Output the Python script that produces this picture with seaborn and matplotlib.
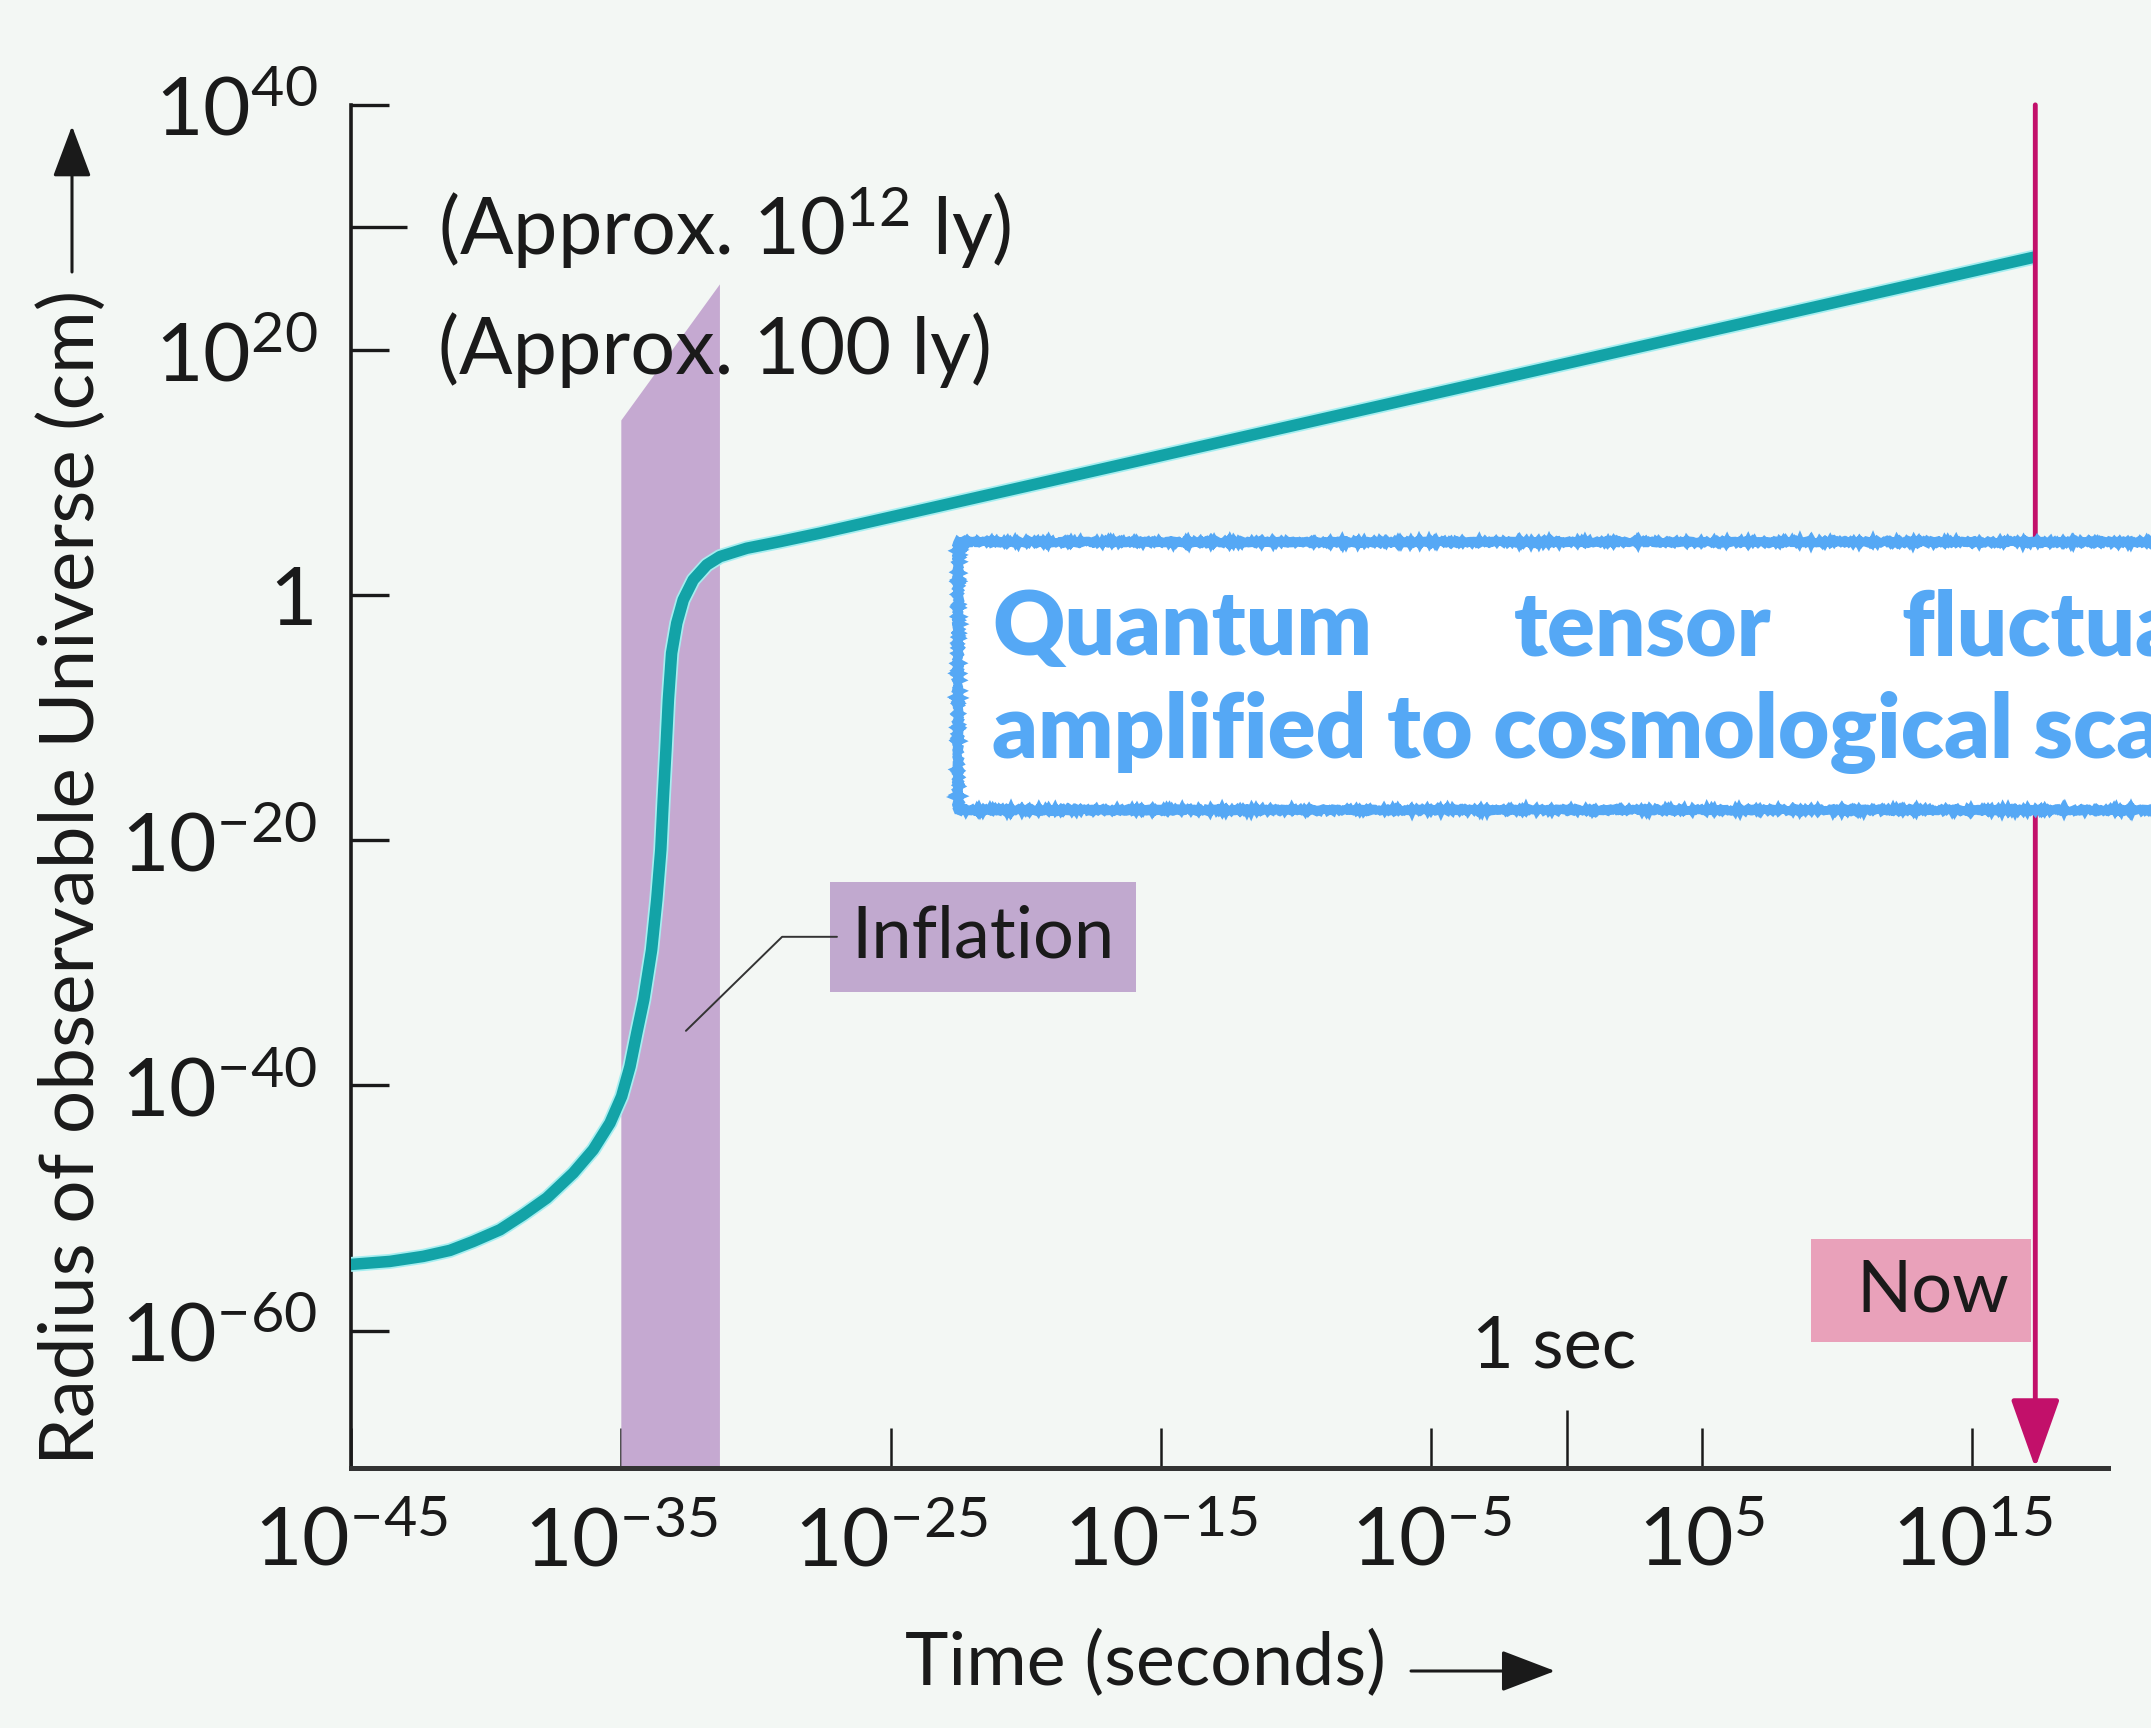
import numpy as np
import pandas as pd
import matplotlib
matplotlib.use("Agg")
import matplotlib.pyplot as plt
import matplotlib.patheffects as pe
from matplotlib.patches import Rectangle, FancyArrowPatch
from matplotlib.ticker import FixedLocator, FixedFormatter
import seaborn as sns

# Expansion history: log10(time / s) and log10(radius / cm)
log_time = [-45.0, -43.54, -42.31, -41.32, -40.46, -39.47, -38.61, -37.74, -36.76,
            -36.02, -35.40, -34.97, -34.66, -34.41, -34.15, -33.86, -33.67, -33.52,
            -33.43, -33.33, -33.24, -33.12, -32.93, -32.69, -32.32, -31.82, -31.33,
            -30.34, -29.11, -27.63, 17.35]
log_radius = [-54.6, -54.35, -53.94, -53.45, -52.72, -51.77, -50.54, -49.18, -47.14,
              -45.24, -43.06, -40.89, -38.45, -35.72, -33.0, -28.93, -24.85, -20.77,
              -16.69, -12.61, -8.54, -4.73, -2.28, -0.38, 1.25, 2.47, 3.15,
              3.83, 4.37, 5.06, 27.6]

# Inflation epoch band (log10 time) and its slanted top edge (log10 radius)
inflation_log_time = [-35.0, -31.35]
inflation_log_top = [14.3, 25.4]

# Present age of the Universe, log10 seconds
now_log_time = 17.35

# Axis ranges and ticks (log10 units)
x_range = [-45.0, 20.04]
y_range = [-71.2, 40.0]
x_tick_exps = [-45, -35, -25, -15, -5, 5, 15]
x_tick_labels = ["$10^{-45}$", "$10^{-35}$", "$10^{-25}$", "$10^{-15}$",
                 "$10^{-5}$", "$10^{5}$", "$10^{15}$"]
y_tick_exps = [40, 20, 0, -20, -40, -60]
y_tick_labels = ["$10^{40}$", "$10^{20}$", "1", "$10^{-20}$", "$10^{-40}$", "$10^{-60}$"]
y_scale_marks = [30, 20]
scale_mark_labels = ["(Approx. $10^{12}$ ly)", "(Approx. 100 ly)"]

BG = "#f3f7f4"
TEAL = "#13a3a7"
BAND = "#c5a9d1"
INFL_BOX = "#c1a9cf"
NOW_BOX = "#e9a1ba"
MAGENTA = "#c2106a"
INK = "#1a1a1a"
CALLOUT = "#55a8f5"

sns.set_theme(style="white")
plt.rcParams["font.family"] = ["Lato", "DejaVu Sans"]
plt.rcParams["mathtext.fontset"] = "custom"
plt.rcParams["mathtext.rm"] = "Lato"
plt.rcParams["mathtext.it"] = "Lato:italic"
plt.rcParams["mathtext.bf"] = "Lato:bold"
plt.rcParams["mathtext.default"] = "regular"

fig = plt.figure(figsize=(21.51, 17.28), dpi=100, facecolor=BG)
ax = fig.add_axes([0.1630, 0.1505, 0.8170, 0.7888])
ax.set_facecolor(BG)
ax.set_xscale("log")
ax.set_yscale("log")
ax.set_xlim(10.0 ** x_range[0], 10.0 ** x_range[1])
ax.set_ylim(10.0 ** y_range[0], 10.0 ** y_range[1])

# inflation band
band_t = 10.0 ** np.array(inflation_log_time)
ax.fill_between(band_t, 10.0 ** y_range[0], 10.0 ** np.array(inflation_log_top),
                color=BAND, lw=0, zorder=1)

# radius curve
df = pd.DataFrame({"time": 10.0 ** np.array(log_time),
                   "radius": 10.0 ** np.array(log_radius)})
sns.lineplot(data=df, x="time", y="radius", sort=False, estimator=None,
             color=TEAL, lw=8.3, ax=ax, zorder=3)
line = ax.get_lines()[-1]
line.set_solid_capstyle("butt")
line.set_solid_joinstyle("round")
line.set_path_effects([pe.Stroke(linewidth=10.8, foreground="#a6eef0"), pe.Normal()])
ax.set_xlabel("")
ax.set_ylabel("")

# "Now" arrow
t_now = 10.0 ** now_log_time
ax.annotate("", xy=(t_now, 10.0 ** y_range[0]), xytext=(t_now, 10.0 ** y_range[1]),
            arrowprops=dict(arrowstyle="-|>,head_length=0.9,head_width=0.32",
                            color=MAGENTA, lw=3.5, mutation_scale=48,
                            shrinkA=0, shrinkB=0),
            annotation_clip=False, zorder=4)

# spines
for side in ("top", "right"):
    ax.spines[side].set_visible(False)
ax.spines["left"].set_color(INK)
ax.spines["left"].set_linewidth(2.6)
ax.spines["bottom"].set_color("#333333")
ax.spines["bottom"].set_linewidth(3.6)

# ticks
ax.xaxis.set_major_locator(FixedLocator([10.0 ** e for e in x_tick_exps]))
ax.xaxis.set_major_formatter(FixedFormatter(x_tick_labels))
ax.xaxis.set_minor_locator(FixedLocator([1.0]))
ax.xaxis.set_minor_formatter(FixedFormatter([""]))
ax.yaxis.set_major_locator(FixedLocator([10.0 ** e for e in y_tick_exps]))
ax.yaxis.set_major_formatter(FixedFormatter(y_tick_labels))
ax.yaxis.set_minor_locator(FixedLocator([10.0 ** e for e in y_scale_marks]))
ax.yaxis.set_minor_formatter(FixedFormatter(["", ""]))

ax.tick_params(axis="x", which="major", direction="in", length=29, width=1.8,
               color=INK, pad=27, labelsize=59, labelcolor=INK, bottom=True)
ax.tick_params(axis="x", which="minor", direction="in", length=42, width=1.8,
               color=INK, bottom=True)
ax.tick_params(axis="y", which="major", direction="in", length=27, width=2.4,
               color=INK, pad=24, labelsize=59, labelcolor=INK, left=True)
ax.tick_params(axis="y", which="minor", direction="in", length=40, width=2.4,
               color=INK, left=True)

# scale marks next to the radius axis
for exp, txt in zip(y_scale_marks, scale_mark_labels):
    ax.text(10.0 ** -41.75, 10.0 ** exp, txt, fontsize=57, color=INK,
            ha="left", va="center", zorder=5)

# "1 sec" marker text
ax.text(10.0 ** -0.45, 10.0 ** -61.3, "1 sec", fontsize=52, color=INK,
        ha="center", va="center", zorder=5)

# Inflation label with leader line
ax.add_patch(Rectangle((10.0 ** -27.26, 10.0 ** -32.35),
                       10.0 ** -15.93 - 10.0 ** -27.26,
                       10.0 ** -23.38 - 10.0 ** -32.35,
                       facecolor=INFL_BOX, edgecolor="none", zorder=2))
ax.text(10.0 ** -21.6, 10.0 ** -27.87, "Inflation", fontsize=52, color=INK,
        ha="center", va="center", zorder=5)
ax.plot([10.0 ** -27.0, 10.0 ** -29.03, 10.0 ** -32.59],
        [10.0 ** -27.87, 10.0 ** -27.87, 10.0 ** -35.54],
        color="#333333", lw=1.4, zorder=5)

# Now label
ax.add_patch(Rectangle((10.0 ** 9.05, 10.0 ** -60.9),
                       10.0 ** 17.19 - 10.0 ** 9.05,
                       10.0 ** -52.5 - 10.0 ** -60.9,
                       facecolor=NOW_BOX, edgecolor="none", zorder=2))
ax.text(10.0 ** 13.57, 10.0 ** -56.8, "Now", fontsize=52, color=INK,
        ha="center", va="center", zorder=5)

# axis titles with arrows
fig.text(0.0335, 0.492, "Radius of observable Universe (cm)", rotation=90,
         fontsize=55, color=INK, ha="center", va="center")
fig.add_artist(FancyArrowPatch(
    (72 / 2151, 1 - 272 / 1728), (72 / 2151, 1 - 126 / 1728),
    transform=fig.transFigure, arrowstyle="-|>,head_length=1.6,head_width=0.6",
    mutation_scale=20, color=INK, lw=2.2, shrinkA=0, shrinkB=0))
fig.text(1146 / 2151, 1 - 1664 / 1728, "Time (seconds)", fontsize=53, color=INK,
         ha="center", va="center")
fig.add_artist(FancyArrowPatch(
    (1411 / 2151, 1 - 1671 / 1728), (1555 / 2151, 1 - 1671 / 1728),
    transform=fig.transFigure, arrowstyle="-|>,head_length=1.7,head_width=0.65",
    mutation_scale=20, color=INK, lw=2.2, shrinkA=0, shrinkB=0))

# callout box
box = Rectangle((958 / 2151, 1 - 810 / 1728), 0.7, 268 / 1728,
                transform=fig.transFigure, facecolor="white", edgecolor=CALLOUT,
                lw=6.0, zorder=10)
box.set_sketch_params(scale=1.2, length=3.0, randomness=3.0)
fig.add_artist(box)
for word, px in zip(["Quantum", "tensor", "fluctuations"], [992, 1514, 1901]):
    fig.text(px / 2151, 1 - 655 / 1728, word, fontsize=64, fontweight="heavy",
             color=CALLOUT, ha="left", va="baseline", zorder=11)
fig.text(992 / 2151, 1 - 758 / 1728, "amplified to cosmological scales", fontsize=64,
         fontweight="heavy", color=CALLOUT, ha="left", va="baseline", zorder=11)

fig.savefig("out.png", dpi=100, facecolor=BG)
